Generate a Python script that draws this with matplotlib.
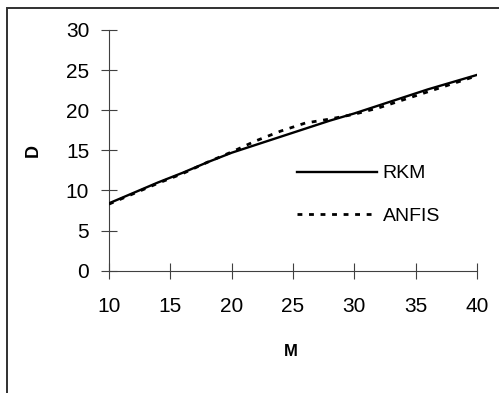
import matplotlib
matplotlib.use("Agg")
import matplotlib.pyplot as plt
from matplotlib.patches import Rectangle

plt.rcParams["font.family"] = ["Liberation Sans", "DejaVu Sans"]

# M values and the two D curves
m_vals = [10, 12, 14, 16, 18, 20, 22, 24, 26, 28, 30, 32, 34, 36, 38, 40]
d_rkm = [8.4, 9.7, 11.0, 12.2, 13.5, 14.7, 15.7, 16.7, 17.7, 18.7, 19.6,
         20.6, 21.6, 22.6, 23.5, 24.4]
d_anfis = [8.3, 9.6, 10.9, 12.1, 13.5, 14.8, 16.2, 17.4, 18.4, 18.9, 19.5,
           20.3, 21.3, 22.3, 23.3, 24.3]

x_ticks = [10, 15, 20, 25, 30, 35, 40]
y_ticks = [0, 5, 10, 15, 20, 25, 30]


def main():
    fig = plt.figure(figsize=(4.99, 3.93), dpi=100)
    ax = fig.add_axes([0.2184, 0.3112, 0.7375, 0.6125])

    # outer chart frame (only top and left edges fall inside the image)
    fig.patches.append(Rectangle((7 / 499, -0.1), 1.2, 1 - 8 / 393 + 0.1,
                                 transform=fig.transFigure, fill=False,
                                 edgecolor="#303030", linewidth=1.4))

    ax.plot(m_vals, d_rkm, color="black", linewidth=1.7, label="RKM")
    ax.plot(m_vals, d_anfis, color="black", linewidth=2.0,
            dashes=(1.75, 2.4), label="ANFIS")

    ax.set_xlim(10, 40)
    ax.set_ylim(0, 30)
    ax.set_xticks(x_ticks)
    ax.set_yticks(y_ticks)

    for side in ("top", "right"):
        ax.spines[side].set_visible(False)
    for side in ("left", "bottom"):
        ax.spines[side].set_color("#404040")
        ax.spines[side].set_linewidth(0.8)
        ax.spines[side].set_zorder(0)

    ax.tick_params(axis="both", direction="inout", length=11.5, width=0.8,
                   color="#404040", labelsize=15)
    ax.tick_params(axis="x", pad=13.5)
    ax.tick_params(axis="y", pad=8.5)

    ax.set_xlabel("M", fontsize=12, fontweight="bold", va="center")
    ax.set_ylabel("D", fontsize=13, fontweight="bold", va="center")
    ax.xaxis.set_label_coords(0.493, -0.334)
    ax.yaxis.set_label_coords(-0.2065, 0.5)

    ax.legend(loc="upper left", bbox_to_anchor=(0.511, 0.44), frameon=False,
              fontsize=14, borderpad=0, borderaxespad=0, handlelength=4.1,
              handletextpad=0.3, labelspacing=1.3)

    fig.savefig("out.png", dpi=100, facecolor="white")


if __name__ == "__main__":
    main()
